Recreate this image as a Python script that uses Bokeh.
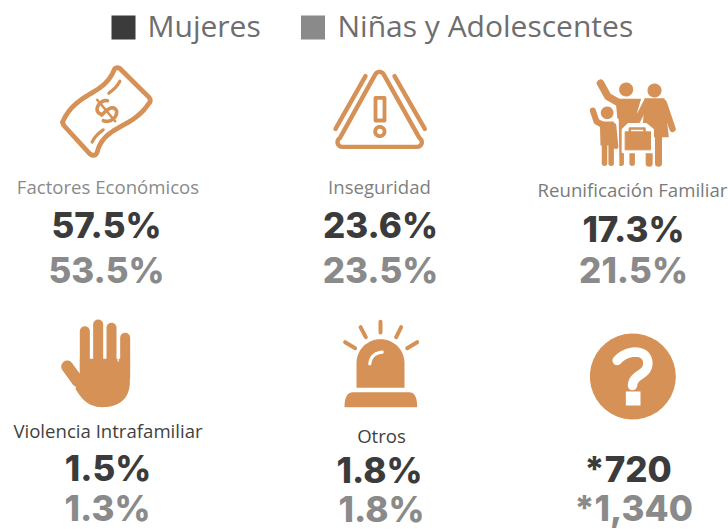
import numpy as np
from bokeh.plotting import figure
from bokeh.models import Range1d
from bokeh.core.properties import value
from bokeh.embed import file_html
from bokeh.resources import INLINE

legend_labels = ["Mujeres", "Niñas y Adolescentes"]
categories = ["Factores Económicos", "Inseguridad", "Reunificación Familiar",
              "Violencia Intrafamiliar", "Otros"]
mujeres = ["57.5%", "23.6%", "17.3%", "1.5%", "1.8%", "*720"]
ninas = ["53.5%", "23.5%", "21.5%", "1.3%", "1.8%", "*1,340"]

ORANGE = "#D59156"
DARK = "#3B3B3B"
GRAY = "#8A8A8A"
W = 728; H = 529
p = figure(width=W, height=H, x_range=Range1d(0, W), y_range=Range1d(H, 0),
           output_backend="svg", toolbar_location=None, min_border=0,
           outline_line_color=None, background_fill_color="white")
p.axis.visible = False
p.grid.visible = False
p.xaxis.visible = False
p.yaxis.visible = False


def bez(a, b, c, d, n=24):
    t = np.linspace(0, 1, n)[:, None]
    a, b, c, d = map(np.array, (a, b, c, d))
    return (1-t)**3*a + 3*(1-t)**2*t*b + 3*(1-t)*t**2*c + t**3*d


def arc(cx, cy, r, a0, a1, n=40):
    t = np.radians(np.linspace(a0, a1, n))
    return np.c_[cx + r*np.cos(t), cy - r*np.sin(t)]


def Z(ox, oy, pts):
    pts = np.asarray(pts, float)
    return pts[:, 0]/3 + ox, pts[:, 1]/3 + oy


def stroke(ox, oy, pts, w=4, color=ORANGE):
    x, y = Z(ox, oy, pts)
    p.line(x, y, line_color=color, line_width=w, line_cap="round", line_join="round")


def fill(ox, oy, pts, color=ORANGE, lw=0):
    x, y = Z(ox, oy, pts)
    p.patch(x, y, fill_color=color, line_color=color, line_width=lw, line_join="round")


def circ(ox, oy, cx, cy, r, color=ORANGE):
    fill(ox, oy, arc(cx, cy, r, 0, 360), color)


# money
o = (0, 50)
outline = np.vstack([
    bez((186, 215), (225, 125), (310, 135), (340, 60)),
    bez((340, 60), (343, 50), (352, 50), (358, 54), 6),
    [(445, 140)],
    bez((445, 140), (452, 148), (450, 155), (444, 160), 6),
    bez((444, 160), (395, 235), (310, 225), (290, 305)),
    bez((290, 305), (285, 318), (275, 316), (268, 310), 6),
    [(190, 225)],
    [(186, 215)],
])
stroke(*o, outline, 4.8)
stroke(*o, bez((325, 128), (338, 118), (350, 108), (358, 92), 10), 3.2)
stroke(*o, bez((275, 275), (282, 258), (295, 248), (308, 238), 10), 3.2)
s_curve = np.vstack([
    bez((22, -20), (8, -38), (-28, -26), (-21, -7), 16),
    bez((-19, 2), (22, -4), (28, 10), (22, 23), 16),
    bez((22, 23), (8, 40), (-18, 34), (-26, 18), 10),
])
ang = np.radians(-40)
rot = np.array([[np.cos(ang), -np.sin(ang)], [np.sin(ang), np.cos(ang)]])
cen = np.array([317, 180])
stroke(*o, s_curve @ rot.T + cen, 3.6)
stroke(*o, np.array([[0, -42], [0, 42]]) @ rot.T + cen, 2.6)

# warning
o = (300, 50)
tri = np.vstack([
    arc(237, 78, 14, 150, 30, 10),
    arc(350, 275, 14, 60, -90, 10),
    arc(125, 275, 14, 270, 120, 10),
])
tri = np.vstack([tri, tri[:1]])
stroke(*o, tri, 4.4)
stroke(*o, [(195, 77), (105, 235)], 4.4)
stroke(*o, [(282, 77), (373, 235)], 4.4)
stroke(*o, [(225, 142), (252, 142), (252, 210), (225, 210), (225, 142)], 3.8)
stroke(*o, arc(238, 243, 14, 0, 360), 3.8)

# family
o = (570, 60)
circ(*o, 167, 87, 21)
circ(*o, 252, 90, 21)
circ(*o, 110, 157, 19)
stroke(*o, [(90, 68), (112, 108), (150, 130)], 7.5)
fill(*o, [(135, 115), (212, 115), (200, 155), (195, 275), (145, 275), (142, 190)])
stroke(*o, [(152, 268), (152, 308)], 5.5)
stroke(*o, [(185, 268), (185, 308)], 5.5)
fill(*o, [(222, 113), (282, 113), (295, 230), (215, 230)])
stroke(*o, [(280, 128), (306, 205)], 6.5)
stroke(*o, [(228, 125), (195, 190)], 6.5)
stroke(*o, [(236, 230), (236, 308)], 7)
stroke(*o, [(264, 230), (264, 308)], 7)
stroke(*o, [(141, 178), (143, 310)], 2.5, "white")
stroke(*o, [(67, 150), (78, 183), (100, 195)], 6)
fill(*o, [(88, 183), (130, 183), (133, 255), (90, 255)])
stroke(*o, [(102, 250), (102, 308)], 5.5)
stroke(*o, [(122, 250), (122, 308)], 5.5)
stroke(*o, [(130, 195), (136, 258)], 5)
fill(*o, [(158, 208), (174, 192), (226, 192), (246, 208), (246, 274), (158, 274)], "white", 3)
fill(*o, [(164, 214), (240, 214), (240, 268), (164, 268)], ORANGE, 1)
stroke(*o, [(178, 212), (178, 204), (222, 204), (222, 212)], 2.5)

# hand
o = (40, 310)
for fx, top in [(133, 62), (173, 42), (213, 52), (254, 82)]:
    stroke(*o, [(fx, top), (fx, 200)], 10)
palm = np.vstack([
    [(118, 145), (268, 145)],
    bez((268, 215), (268, 265), (235, 290), (185, 290)),
    bez((185, 290), (140, 290), (120, 260), (105, 235)),
    [(118, 185)],
])
fill(*o, palm)
stroke(*o, [(80, 168), (112, 212)], 12)
for gx, top in [(153, 142), (193, 142), (233, 152)]:
    stroke(*o, [(gx, 90), (gx, top)], 1.2, "white")

# siren
o = (330, 310)
dome = np.vstack([[(78, 232)], arc(150, 158, 72, 180, 0), [(222, 232)]])
fill(*o, dome)
base = np.vstack([
    bez((42, 290), (42, 265), (48, 245), (68, 245), 10),
    bez((235, 245), (255, 245), (260, 265), (260, 290), 10),
])
fill(*o, base)
for a, b in [((150, 34), (150, 66)), ((90, 50), (106, 80)), ((212, 50), (197, 80)),
             ((44, 95), (74, 113)), ((260, 95), (230, 113))]:
    stroke(*o, [a, b], 4)
stroke(*o, bez((118, 160), (120, 140), (132, 127), (155, 125), 12), 3.2, "white")

# question
o = (570, 320)
circ(*o, 187, 168, 129)
stroke(*o, np.vstack([
    bez((140, 120), (170, 85), (232, 85), (232, 128), 20),
    bez((232, 128), (232, 165), (188, 160), (186, 195), 20),
]), 9.5, "white")
fill(*o, [(166, 213), (210, 213), (210, 255), (166, 255)], "white")

# legend
p.rect([123, 312.5], [27, 27], width=24, height=24, fill_color=[DARK, GRAY], line_color=None)
p.text([147, 337], [24.5, 24.5], text=legend_labels, text_font=value("Open Sans"),
       text_font_size="30px", text_color="#6E6E6E", text_align="left", text_baseline="middle")

# category labels
p.text([107.5, 379, 632, 107.5, 381], [185.5, 185.5, 188.5, 429.5, 434.5], text=categories,
       text_font=value("Open Sans"), text_font_size="18.6px",
       text_color=["#8A8A8A", "#7F7F7F", "#7A7A7A", "#3F3F3F", "#3F3F3F"],
       text_align="center", text_baseline="middle")

# values
col_x = [106, 380, 633, 107.5, 379, 627.5]
col_x2 = [106, 380, 633, 107, 381, 633]
y1 = [224, 224, 228, 467, 469, 468]
y2 = [269, 269, 269, 507, 508, 507]
p.text(col_x, y1, text=mujeres, text_font=value("Inter ExtraBold"), text_font_style="bold",
       text_font_size="35px", text_color=DARK, text_align="center", text_baseline="middle")
p.text(col_x2, y2, text=ninas, text_font=value("Inter ExtraBold"), text_font_style="bold",
       text_font_size="35px", text_color=GRAY, text_align="center", text_baseline="middle")

open("out.html", "w").write(file_html(p, INLINE))
